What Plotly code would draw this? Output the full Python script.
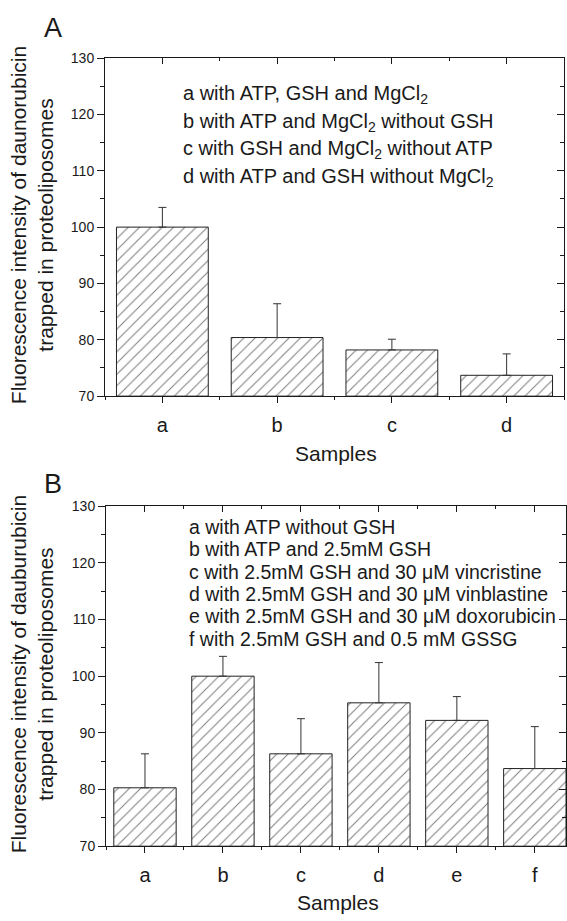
import plotly.graph_objects as go

# ---------------- data ----------------
samples_a = ["a", "b", "c", "d"]
values_a = [100.0, 80.4, 78.2, 73.7]
errors_a = [3.5, 6.0, 1.9, 3.8]
legend_a = [
    "a with ATP, GSH and MgCl<sub>2</sub>",
    "b with ATP and MgCl<sub>2</sub> without GSH",
    "c with GSH and MgCl<sub>2</sub> without ATP",
    "d with ATP and GSH without MgCl<sub>2</sub>",
]

samples_b = ["a", "b", "c", "d", "e", "f"]
values_b = [80.3, 100.0, 86.3, 95.3, 92.2, 83.7]
errors_b = [6.0, 3.5, 6.2, 7.1, 4.2, 7.4]
legend_b = [
    "a with ATP without GSH",
    "b with ATP and 2.5mM GSH",
    "c with 2.5mM GSH and 30 \u03bcM vincristine",
    "d with 2.5mM GSH and 30 \u03bcM vinblastine",
    "e with 2.5mM GSH and 30 \u03bcM doxorubicin",
    "f with 2.5mM GSH and 0.5 mM GSSG",
]

ytitle_a = "Fluorescence intensity of daunorubicin<br>trapped in proteoliposomes"
ytitle_b = "Fluorescence intensity of dauburubicin<br>trapped in proteoliposomes"
xtitle = "Samples"

# ---------------- figure ----------------
W, H = 567, 921
FONT = "Liberation Sans, Arial, sans-serif"
INK = "#1a1a1a"

def px_x(p):
    return p / W

def px_y(p):
    return 1 - p / H

fig = go.Figure()

def add_bars(vals, errs, xa, ya):
    xs = list(range(1, len(vals) + 1))
    fig.add_trace(go.Bar(
        x=xs, y=[v - 70 for v in vals], base=70, width=0.8,
        xaxis=xa, yaxis=ya,
        marker=dict(color="white",
                    line=dict(color="#222222", width=1),
                    pattern=dict(shape="/", fgcolor="#000000", bgcolor="white",
                                 size=8, solidity=0.13)),
        error_y=dict(type="data", array=errs, arrayminus=[0] * len(errs),
                     symmetric=False, color="#333333", thickness=1, width=4),
        showlegend=False, hoverinfo="skip",
    ))

add_bars(values_a, errors_a, "x", "y")
add_bars(values_b, errors_b, "x2", "y2")
# empty traces so the mirrored frame axes are drawn
fig.add_trace(go.Scatter(x=[], y=[], xaxis="x3", yaxis="y3", showlegend=False))
fig.add_trace(go.Scatter(x=[], y=[], xaxis="x4", yaxis="y4", showlegend=False))

dom_xa = [px_x(105), px_x(564)]
dom_xb = [px_x(106), px_x(566)]
dom_ya = [px_y(395), px_y(51)]
dom_yb = [px_y(853), px_y(507)]

common_line = dict(showline=True, linecolor=INK, linewidth=1, showgrid=False,
                   zeroline=False, tickcolor=INK, tickwidth=1)

def xaxis_bottom(dom, rng, n, anchor):
    return dict(domain=dom, range=rng, anchor=anchor,
                tickmode="array", tickvals=list(range(1, n + 1)),
                ticktext=(samples_a if n == 4 else samples_b),
                ticks="outside", ticklen=6, ticklabelstandoff=5,
                minor=dict(tickmode="array",
                           tickvals=[i + 0.5 for i in range(0, n + 1)],
                           ticks="outside", ticklen=3, tickcolor=INK),
                tickfont=dict(family=FONT, size=20, color=INK),
                **common_line)

def xaxis_top(dom, rng, n, anchor, overlay):
    return dict(domain=dom, range=rng, anchor=anchor, overlaying=overlay, side="top",
                tickmode="array", tickvals=list(range(1, n + 1)),
                showticklabels=False, ticks="inside", ticklen=6,
                minor=dict(tickmode="array",
                           tickvals=[i + 0.5 for i in range(0, n + 1)],
                           ticks="inside", ticklen=3, tickcolor=INK),
                **common_line)

def yaxis_left(dom, anchor):
    return dict(domain=dom, range=[70, 130], anchor=anchor,
                tickmode="linear", tick0=70, dtick=10,
                ticks="outside", ticklen=7,
                minor=dict(dtick=5, tick0=70, ticks="outside", ticklen=4, tickcolor=INK),
                tickfont=dict(family=FONT, size=14, color=INK),
                **common_line)

def yaxis_right(dom, anchor, overlay):
    return dict(domain=dom, range=[70, 130], anchor=anchor, overlaying=overlay,
                side="right", tickmode="linear", tick0=70, dtick=10,
                showticklabels=False, ticks="inside", ticklen=7,
                minor=dict(dtick=5, tick0=70, ticks="inside", ticklen=4, tickcolor=INK),
                **common_line)

fig.update_layout(
    width=W, height=H,
    margin=dict(l=0, r=0, t=0, b=0),
    paper_bgcolor="white", plot_bgcolor="white",
    font=dict(family=FONT, color=INK),
    bargap=0.2,
    xaxis=xaxis_bottom(dom_xa, [0.5, 4.5], 4, "y"),
    yaxis=yaxis_left(dom_ya, "x"),
    xaxis3=xaxis_top(dom_xa, [0.5, 4.5], 4, "y", "x"),
    yaxis3=yaxis_right(dom_ya, "x", "y"),
    xaxis2=xaxis_bottom(dom_xb, [0.5, 6.4], 6, "y2"),
    yaxis2=yaxis_left(dom_yb, "x2"),
    xaxis4=xaxis_top(dom_xb, [0.5, 6.4], 6, "y2", "x2"),
    yaxis4=yaxis_right(dom_yb, "x2", "y2"),
)

annotations = []

def ann(text, x, y, size, xanchor="center", angle=0):
    annotations.append(dict(text=text, x=px_x(x), y=px_y(y), xref="paper", yref="paper",
                            xanchor=xanchor, yanchor="middle", showarrow=False,
                            textangle=angle, font=dict(family=FONT, size=size, color=INK)))

# panel letters
ann("A", 53, 20, 27)
ann("B", 53, 484, 27)
# y titles
ann(ytitle_a, 32, 221, 21, angle=-90)
ann(ytitle_b, 32, 678, 21, angle=-90)
# x titles
ann(xtitle, 336, 453, 21)
ann(xtitle, 338, 910, 21)
# legends
for i, line in enumerate(legend_a):
    ann(line, 181, 88 + i * 28.2, 20, xanchor="left")
for i, line in enumerate(legend_b):
    ann(line, 187, 528 + i * 22.8, 19.5, xanchor="left")

fig.update_layout(annotations=annotations)

fig.write_html("out.html")
